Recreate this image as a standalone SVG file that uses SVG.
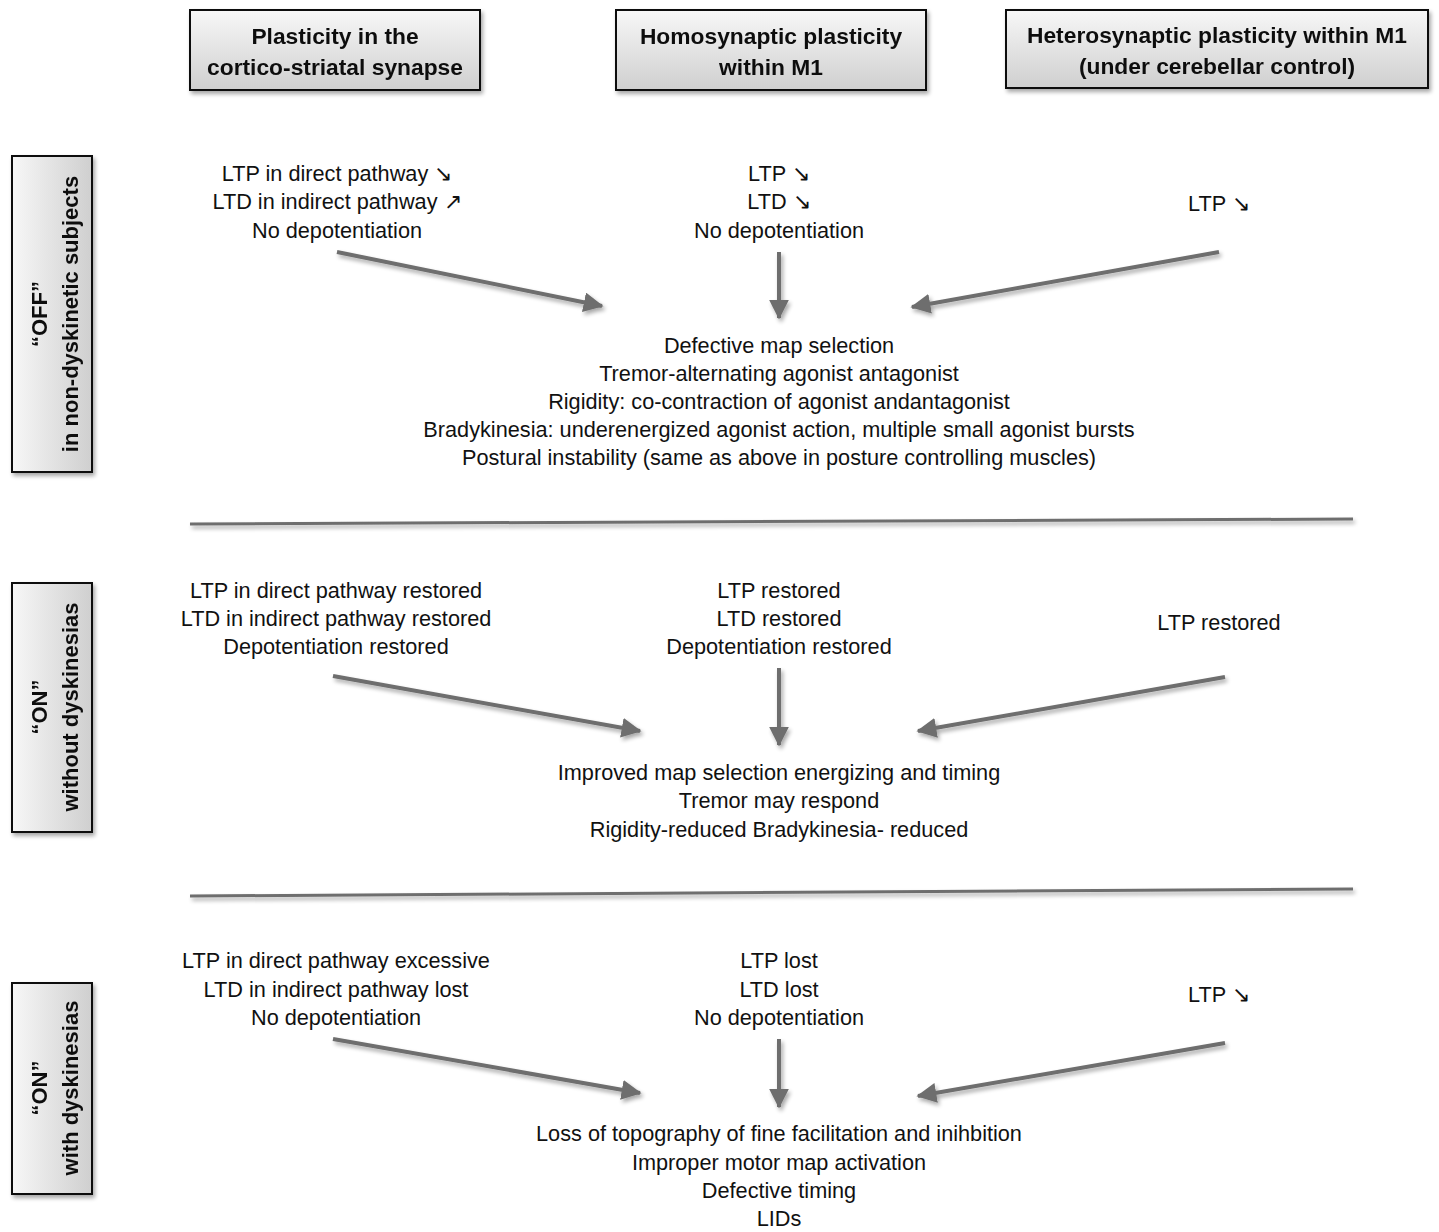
<svg xmlns="http://www.w3.org/2000/svg" width="1439" height="1232" viewBox="0 0 1439 1232">
<defs>
<linearGradient id="gv" x1="0" y1="0" x2="0" y2="1">
<stop offset="0" stop-color="#f7f7f7"/><stop offset="1" stop-color="#cfcfcf"/>
</linearGradient>
<linearGradient id="gh" x1="0" y1="0" x2="1" y2="0">
<stop offset="0" stop-color="#f7f7f7"/><stop offset="1" stop-color="#cfcfcf"/>
</linearGradient>
<filter id="sh" x="-10%" y="-10%" width="130%" height="130%">
<feGaussianBlur in="SourceAlpha" stdDeviation="2"/>
<feOffset dx="2" dy="3" result="b"/>
<feComponentTransfer><feFuncA type="linear" slope="0.35"/></feComponentTransfer>
<feMerge><feMergeNode/><feMergeNode in="SourceGraphic"/></feMerge>
</filter>
<marker id="ah" markerWidth="5" markerHeight="5" refX="4.6" refY="2.5" orient="auto" markerUnits="strokeWidth">
<path d="M0,0 L5,2.5 L0,5 z" fill="#6e6e6e"/>
</marker>
</defs>
<style>
.box{stroke:#111;stroke-width:2}
.hd{font-family:"Liberation Sans",Arial,sans-serif;font-weight:bold;font-size:22.8px;fill:#111;text-anchor:middle}
.vt{font-family:"Liberation Sans",Arial,sans-serif;font-weight:bold;font-size:22px;fill:#111;text-anchor:middle}
.t{font-family:"Liberation Sans",Arial,sans-serif;font-size:21.7px;fill:#111;text-anchor:middle}
.arr{stroke:#6e6e6e;stroke-width:4;fill:none;marker-end:url(#ah)}
.div{stroke:#6e6e6e;stroke-width:3;fill:none}
</style>

<g id="head-corticostriatal" filter="url(#sh)">
<rect class="box" x="190" y="10" width="290" height="80" fill="url(#gv)"/>
<text class="hd" x="335" y="44">Plasticity in the</text>
<text class="hd" x="335" y="75">cortico-striatal synapse</text>
</g>
<g id="head-homosynaptic" filter="url(#sh)">
<rect class="box" x="616" y="10" width="310" height="80" fill="url(#gv)"/>
<text class="hd" x="771" y="44">Homosynaptic plasticity</text>
<text class="hd" x="771" y="75">within M1</text>
</g>
<g id="head-heterosynaptic" filter="url(#sh)">
<rect class="box" x="1006" y="10" width="422" height="78" fill="url(#gv)"/>
<text class="hd" x="1217" y="43">Heterosynaptic plasticity within M1</text>
<text class="hd" x="1217" y="74">(under cerebellar control)</text>
</g>

<g id="row-off" filter="url(#sh)">
<rect class="box" x="12" y="156" width="80" height="316" fill="url(#gh)"/>
<text class="vt" transform="translate(52,314) rotate(-90)"><tspan x="0" y="-5">“OFF”</tspan><tspan x="0" y="26">in non-dyskinetic subjects</tspan></text>
</g>
<g id="row-on-nodysk" filter="url(#sh)">
<rect class="box" x="12" y="583" width="80" height="249" fill="url(#gh)"/>
<text class="vt" transform="translate(52,707) rotate(-90)"><tspan x="0" y="-5">“ON”</tspan><tspan x="0" y="26">without dyskinesias</tspan></text>
</g>
<g id="row-on-dysk" filter="url(#sh)">
<rect class="box" x="12" y="983" width="80" height="211" fill="url(#gh)"/>
<text class="vt" transform="translate(52,1088) rotate(-90)"><tspan x="0" y="-5">“ON”</tspan><tspan x="0" y="26">with dyskinesias</tspan></text>
</g>

<g id="s1-striatal">
<text class="t" x="337" y="181">LTP in direct pathway ↘</text>
<text class="t" x="337" y="209">LTD in indirect pathway ↗</text>
<text class="t" x="337" y="238">No depotentiation</text>
</g>
<g id="s1-homo">
<text class="t" x="779" y="181">LTP ↘</text>
<text class="t" x="779" y="209">LTD ↘</text>
<text class="t" x="779" y="238">No depotentiation</text>
</g>
<g id="s1-hetero">
<text class="t" x="1219" y="211">LTP ↘</text>
</g>
<g id="s1-result">
<text class="t" x="779" y="353">Defective map selection</text>
<text class="t" x="779" y="381">Tremor-alternating agonist antagonist</text>
<text class="t" x="779" y="409">Rigidity: co-contraction of agonist andantagonist</text>
<text class="t" x="779" y="437">Bradykinesia: underenergized agonist action, multiple small agonist bursts</text>
<text class="t" x="779" y="465">Postural instability (same as above in posture controlling muscles)</text>
</g>

<g id="s2-striatal">
<text class="t" x="336" y="598">LTP in direct pathway restored</text>
<text class="t" x="336" y="626">LTD in indirect pathway restored</text>
<text class="t" x="336" y="654">Depotentiation restored</text>
</g>
<g id="s2-homo">
<text class="t" x="779" y="598">LTP restored</text>
<text class="t" x="779" y="626">LTD restored</text>
<text class="t" x="779" y="654">Depotentiation restored</text>
</g>
<g id="s2-hetero">
<text class="t" x="1219" y="630">LTP restored</text>
</g>
<g id="s2-result">
<text class="t" x="779" y="780">Improved map selection energizing and timing</text>
<text class="t" x="779" y="808">Tremor may respond</text>
<text class="t" x="779" y="837">Rigidity-reduced Bradykinesia- reduced</text>
</g>

<g id="s3-striatal">
<text class="t" x="336" y="968">LTP in direct pathway excessive</text>
<text class="t" x="336" y="997">LTD in indirect pathway lost</text>
<text class="t" x="336" y="1025">No depotentiation</text>
</g>
<g id="s3-homo">
<text class="t" x="779" y="968">LTP lost</text>
<text class="t" x="779" y="997">LTD lost</text>
<text class="t" x="779" y="1025">No depotentiation</text>
</g>
<g id="s3-hetero">
<text class="t" x="1219" y="1002">LTP ↘</text>
</g>
<g id="s3-result">
<text class="t" x="779" y="1141">Loss of topography of fine facilitation and inihbition</text>
<text class="t" x="779" y="1170">Improper motor map activation</text>
<text class="t" x="779" y="1198">Defective timing</text>
<text class="t" x="779" y="1226">LIDs</text>
</g>

<g id="connectors" filter="url(#sh)">
<line class="arr" x1="337" y1="252" x2="602" y2="306"/>
<line class="arr" x1="779" y1="252" x2="779" y2="318"/>
<line class="arr" x1="1219" y1="252" x2="912" y2="307"/>
<line class="div" x1="190" y1="524" x2="1353" y2="519"/>
<line class="arr" x1="333" y1="676" x2="640" y2="731"/>
<line class="arr" x1="779" y1="668" x2="779" y2="745"/>
<line class="arr" x1="1225" y1="677" x2="918" y2="731"/>
<line class="div" x1="190" y1="896" x2="1353" y2="889"/>
<line class="arr" x1="333" y1="1039" x2="640" y2="1093"/>
<line class="arr" x1="779" y1="1039" x2="779" y2="1107"/>
<line class="arr" x1="1225" y1="1043" x2="918" y2="1096"/>
</g>
</svg>
